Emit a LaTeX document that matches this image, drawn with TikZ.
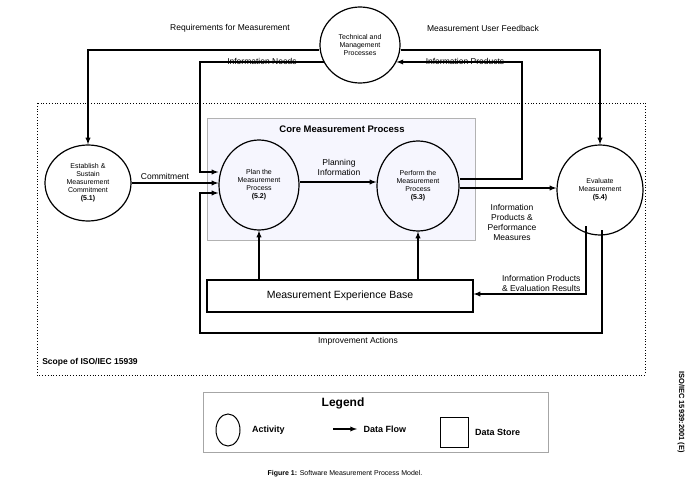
\documentclass[tikz,border=0pt]{standalone}
\usepackage{fontspec}
\setmainfont{Liberation Sans}
\usetikzlibrary{arrows,positioning,shapes.geometric,calc}
\newcommand{\actfont}{\fontsize{7}{8}\selectfont}
\newcommand{\lbl}{\fontsize{8.5}{10}\selectfont}
\tikzset{
  act/.style={ellipse, draw, line width=1.2pt, align=center, font=\actfont, inner sep=0pt},
  flow/.style={draw, line width=1.3pt, -latex},
  line/.style={draw, line width=1.3pt},
}
\begin{document}
\begin{tikzpicture}[x=1pt,y=-1pt]
        \useasboundingbox (0,0) rectangle (693,497);
        %boxes
        \draw[dotted, thick] (37,103) rectangle (645,375);
        \node[font=\bfseries\lbl] (scope) at (90,362) {Scope of ISO/IEC 15939};
        \fill[gray!15!blue!4!white, draw=gray!60] (207,118) rectangle (475,240);
        \node[font=\bfseries\fontsize{9.5}{11}\selectfont] (core) at (342,129) {Core Measurement Process};
        %nodes
        \node[act, minimum width=80pt, minimum height=76pt] (tech) at (360,45) {Technical and\\Management\\Processes};
        \node[act, minimum width=86pt, minimum height=76pt] (est) at (88,183) {Establish \&\\Sustain\\Measurement\\Commitment\\\textbf{(5.1)}};
        \node[act, minimum width=80pt, minimum height=90pt] (plan) at (259,185) {Plan the\\Measurement\\Process\\\textbf{(5.2)}};
        \node[act, minimum width=82pt, minimum height=90pt] (perf) at (418,186) {Perform the\\Measurement\\Process\\\textbf{(5.3)}};
        \node[act, minimum width=86pt, minimum height=90pt] (eval) at (600,190) {Evaluate\\Measurement\\\textbf{(5.4)}};
        \node[draw, line width=1.2pt, minimum width=266pt, minimum height=32pt, font=\fontsize{10.5}{12}\selectfont] (base) at (340,296) {Measurement Experience Base};
        %labels
        \node[font=\lbl] at (230,28) {Requirements for Measurement};
        \node[font=\lbl] at (483,28) {Measurement User Feedback};
        \node[font=\lbl] at (262,61) {Information Needs};
        \node[font=\lbl] at (465,61) {Information Products};
        \node[font=\lbl] at (165,176) {Commitment};
        \node[font=\lbl, align=center] at (339,167) {Planning\\Information};
        \node[font=\lbl, align=center] at (512,222) {Information\\Products \&\\Performance\\Measures};
        \node[font=\lbl, align=right, anchor=east] at (584,283) {Information Products\\\& Evaluation Results};
        \node[font=\lbl] at (358,341) {Improvement Actions};
        %edges
        \path[flow] (tech.west |- 0,50) -| (est.north);
        \path[flow] (tech.east |- 0,50) -| (eval.north);
        \path[flow] (tech.205) -| (200,172) -- (plan.west |- 0,172);
        \path[flow] (perf.east |- 0,179) -| (522,0 |- tech.-25) -- (tech.-25);
        \path[flow] (est.east) -- (plan.west |- 0,183);
        \path[flow] (plan.east |- 0,182) -- (perf.west |- 0,182);
        \path[flow] (perf.east |- 0,188) -- (eval.west |- 0,188);
        \path[flow] (plan.south |- base.north) -- (plan.south);
        \path[flow] (perf.south |- base.north) -- (perf.south);
        \path[flow] (586,226) |- (base.east |- 0,294);
        \path[flow] (602,230) |- (200,333) |- (plan.west |- 0,193);
        %legend
        \draw[gray!70] (203,392) rectangle (548,452);
        \node[font=\bfseries\fontsize{12}{13}\selectfont] (leg) at (343,403) {Legend};
        \node[ellipse, draw, line width=1pt, minimum width=24pt, minimum height=32pt] (lact) at (228,430) {};
        \node[font=\bfseries\fontsize{9}{10}\selectfont, right=8pt of lact] (lactt) {Activity};
        \coordinate (la) at (333,429);
        \coordinate (lb) at (357,429);
        \path[flow] (la) -- (lb);
        \node[font=\bfseries\fontsize{9}{10}\selectfont, right=3pt of lb] (lflow) {Data Flow};
        \node[draw, line width=1pt, minimum width=28pt, minimum height=30pt] (lstore) at (454,432) {};
        \node[font=\bfseries\fontsize{9}{10}\selectfont, right=3pt of lstore] (lstoret) {Data Store};
        %caption
        \node[font=\fontsize{7}{8}\selectfont] (cap) at (345,474) {\textbf{Figure 1:} Software Measurement Process Model.};
        \node[font=\bfseries\fontsize{7.5}{8}\selectfont, rotate=-90] (iso) at (681,412) {ISO/IEC 15939:2001 (E)};
      \end{tikzpicture}
\end{document}
